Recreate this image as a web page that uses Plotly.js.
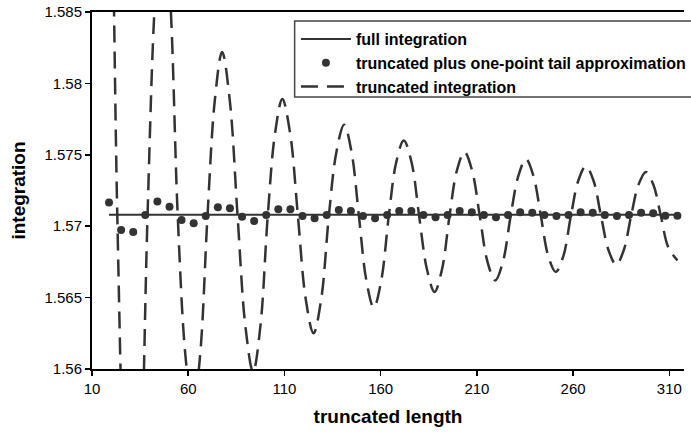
<!DOCTYPE html>
<html>
<head>
<meta charset="utf-8">
<script src="https://cdn.plot.ly/plotly-3.0.1.min.js"></script>
<style>
  html, body { margin: 0; padding: 0; background: #fff; }
  #chart { width: 691px; height: 440px; }
</style>
</head>
<body>
<div id="chart"></div>
<script>
// ---- data ----
const fullX = [18.85, 314.16];
const fullY = [1.5708, 1.5708];

const tailX = [18.85, 25.13, 31.42, 37.70, 43.98, 50.27, 56.55, 62.83, 69.12, 75.40,
  81.68, 87.96, 94.25, 100.53, 106.81, 113.10, 119.38, 125.66, 131.95, 138.23,
  144.51, 150.80, 157.08, 163.36, 169.65, 175.93, 182.21, 188.50, 194.78, 201.06,
  207.35, 213.63, 219.91, 226.19, 232.48, 238.76, 245.04, 251.33, 257.61, 263.89,
  270.18, 276.46, 282.74, 289.03, 295.31, 301.59, 307.88, 314.16];
const tailY = [1.57166, 1.56973, 1.56959, 1.57078, 1.57173, 1.57137, 1.57043, 1.57020, 1.57071, 1.57132,
  1.57125, 1.57066, 1.57036, 1.57078, 1.57118, 1.57118, 1.57071, 1.57055, 1.57078, 1.57113,
  1.57106, 1.57071, 1.57055, 1.57078, 1.57106, 1.57106, 1.57078, 1.57062, 1.57078, 1.57106,
  1.57097, 1.57078, 1.57062, 1.57078, 1.57097, 1.57094, 1.57078, 1.57071, 1.57078, 1.57097,
  1.57094, 1.57078, 1.57071, 1.57078, 1.57094, 1.57090, 1.57074, 1.57074];

const truncX = [15.3, 19.2, 23.15, 27.1, 31.0, 34.9, 38.85, 42.8, 46.7, 50.6,
  54.55, 58.5, 62.4, 66.2, 70.0, 73.8, 77.6, 81.6, 85.65, 89.7,
  93.7, 97.5, 101.3, 105.1, 108.9, 112.95, 117.0, 121.05, 125.1, 129.1,
  133.05, 137.0, 141.0, 144.85, 148.7, 152.55, 156.4, 160.3, 164.2, 168.1,
  172.0, 176.0, 180.0, 184.0, 188.0, 191.9, 195.75, 199.6, 203.5, 207.5,
  211.5, 215.5, 219.5, 223.5, 227.5, 231.5, 235.5, 239.4, 243.25, 247.1,
  251.0, 254.9, 258.8, 262.7, 266.6, 270.55, 274.5, 278.45, 282.4, 286.25,
  290.1, 293.95, 297.8, 301.7, 305.6, 309.5, 314.2];
const truncY = [1.615, 1.602, 1.5707, 1.5497, 1.541, 1.5497, 1.5707, 1.586, 1.5924, 1.586,
  1.5707, 1.561, 1.557, 1.561, 1.5707, 1.5788, 1.5822, 1.5788, 1.5707, 1.563,
  1.5598, 1.563, 1.5707, 1.5765, 1.5789, 1.5765, 1.5707, 1.5649, 1.5625, 1.5649,
  1.5707, 1.5752, 1.5771, 1.5752, 1.5707, 1.5662, 1.5643, 1.5662, 1.5707, 1.5745,
  1.576, 1.5745, 1.5707, 1.567, 1.5654, 1.567, 1.5707, 1.5739, 1.5752, 1.5739,
  1.5707, 1.5675, 1.5662, 1.5675, 1.5707, 1.5735, 1.5747, 1.5735, 1.5707, 1.5679,
  1.5668, 1.5679, 1.5707, 1.5732, 1.5742, 1.5732, 1.5707, 1.5683, 1.5673, 1.5683,
  1.5707, 1.5729, 1.5738, 1.5729, 1.5707, 1.5685, 1.5676];

const seriesNames = ['full integration', 'truncated plus one-point tail approximation', 'truncated integration'];
const xTickVals = [10, 60, 110, 160, 210, 260, 310];
const yTickVals = [1.56, 1.565, 1.57, 1.575, 1.58, 1.585];
const yTickText = ['1.56', '1.565', '1.57', '1.575', '1.58', '1.585'];

// ---- chart ----
const ink = '#333333';
const fam = 'Liberation Sans, Arial, sans-serif';

const traces = [
  { x: fullX, y: fullY, name: seriesNames[0], type: 'scatter', mode: 'lines',
    line: { color: ink, width: 2 } },
  { x: tailX, y: tailY, name: seriesNames[1], type: 'scatter', mode: 'markers',
    marker: { color: ink, size: 8 } },
  { x: truncX, y: truncY, name: seriesNames[2], type: 'scatter', mode: 'lines',
    line: { color: ink, width: 2.5, dash: '17px,9px', shape: 'spline', smoothing: 1 } }
];

const layout = {
  width: 691, height: 440, autosize: false,
  margin: { l: 92, r: 0, t: 12, b: 71, pad: 0 },
  paper_bgcolor: '#fff', plot_bgcolor: '#fff',
  font: { family: fam, color: '#000', size: 15 },
  showlegend: true,
  legend: {
    x: 0.3445, y: 0.972, xanchor: 'left', yanchor: 'top',
    bgcolor: 'rgba(0,0,0,0)', borderwidth: 0,
    font: { family: fam, size: 16, weight: 'bold', color: '#000' },
    itemwidth: 50, tracegroupgap: 0
  },
  // legend frame, running past the right edge of the picture as in the reference
  shapes: [{
    type: 'rect', xref: 'paper', yref: 'paper', layer: 'above',
    x0: 0.3423, x1: 1.03, y0: 0.7619, y1: 0.9748,
    fillcolor: '#fff', line: { color: '#444', width: 1.5 }
  }],
  xaxis: {
    range: [10, 317.6], tickvals: xTickVals, ticks: 'outside', ticklen: 5, tickwidth: 1.5,
    tickcolor: '#000', showline: true, linecolor: '#000', linewidth: 2, mirror: true,
    showgrid: false, zeroline: false, tickfont: { family: fam, size: 15, color: '#000' },
    title: { text: 'truncated length', font: { family: fam, size: 19, weight: 'bold', color: '#000' }, standoff: 14 }
  },
  yaxis: {
    range: [1.56, 1.585], tickvals: yTickVals, ticktext: yTickText, ticks: 'outside', ticklen: 5, tickwidth: 1.5,
    tickcolor: '#000', showline: true, linecolor: '#000', linewidth: 2,
    showgrid: false, zeroline: false, tickfont: { family: fam, size: 15, color: '#000' },
    title: { text: 'integration', font: { family: fam, size: 19, weight: 'bold', color: '#000' }, standoff: 14 }
  }
};

Plotly.newPlot('chart', traces, layout, { displayModeBar: false, staticPlot: true });
</script>
</body>
</html>
